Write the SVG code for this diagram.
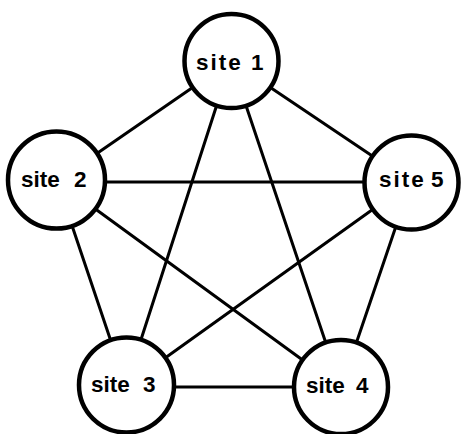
<svg xmlns="http://www.w3.org/2000/svg" width="463" height="434" viewBox="0 0 463 434">
  <style>
    .link { stroke: #000; stroke-width: 3; fill: none; stroke-linecap: round; }
    .site circle { fill: #fff; stroke: #000; stroke-width: 4.5; }
    .site text { font-family: "Liberation Sans", Arial, sans-serif; font-weight: bold; font-size: 22.5px; fill: #000; }
    .wide { letter-spacing: 2px; }
  </style>
  <rect width="463" height="434" fill="#fff"/>

  <!-- fully connected network: every site linked to every other -->
  <g id="connectors">
    <line class="link" x1="231" y1="61" x2="57" y2="181"/>
    <line class="link" x1="231" y1="61" x2="411" y2="182"/>
    <line class="link" x1="231" y1="61" x2="126" y2="386"/>
    <line class="link" x1="231" y1="61" x2="341" y2="388"/>
    <line class="link" x1="57" y1="182" x2="411" y2="182"/>
    <line class="link" x1="57" y1="181" x2="126" y2="386"/>
    <line class="link" x1="57" y1="181" x2="341" y2="388"/>
    <line class="link" x1="411" y1="182" x2="126" y2="386"/>
    <line class="link" x1="411" y1="182" x2="341" y2="388"/>
    <line class="link" x1="126" y1="387" x2="341" y2="387"/>
  </g>

  <g id="site1" class="site">
    <circle cx="231.5" cy="61" r="47"/>
    <text y="70"><tspan x="196" class="wide">site</tspan> <tspan x="251">1</tspan></text>
  </g>
  <g id="site2" class="site">
    <circle cx="56.5" cy="180" r="48.5"/>
    <text y="187"><tspan x="21">site</tspan> <tspan x="74">2</tspan></text>
  </g>
  <g id="site5" class="site">
    <circle cx="411.5" cy="182.5" r="47"/>
    <text y="187"><tspan x="379" class="wide">site</tspan> <tspan x="431">5</tspan></text>
  </g>
  <g id="site3" class="site">
    <circle cx="126.5" cy="385" r="47.5"/>
    <text y="392"><tspan x="91">site</tspan> <tspan x="143">3</tspan></text>
  </g>
  <g id="site4" class="site">
    <circle cx="341" cy="387" r="47"/>
    <text y="393"><tspan x="306">site</tspan> <tspan x="356">4</tspan></text>
  </g>
</svg>
